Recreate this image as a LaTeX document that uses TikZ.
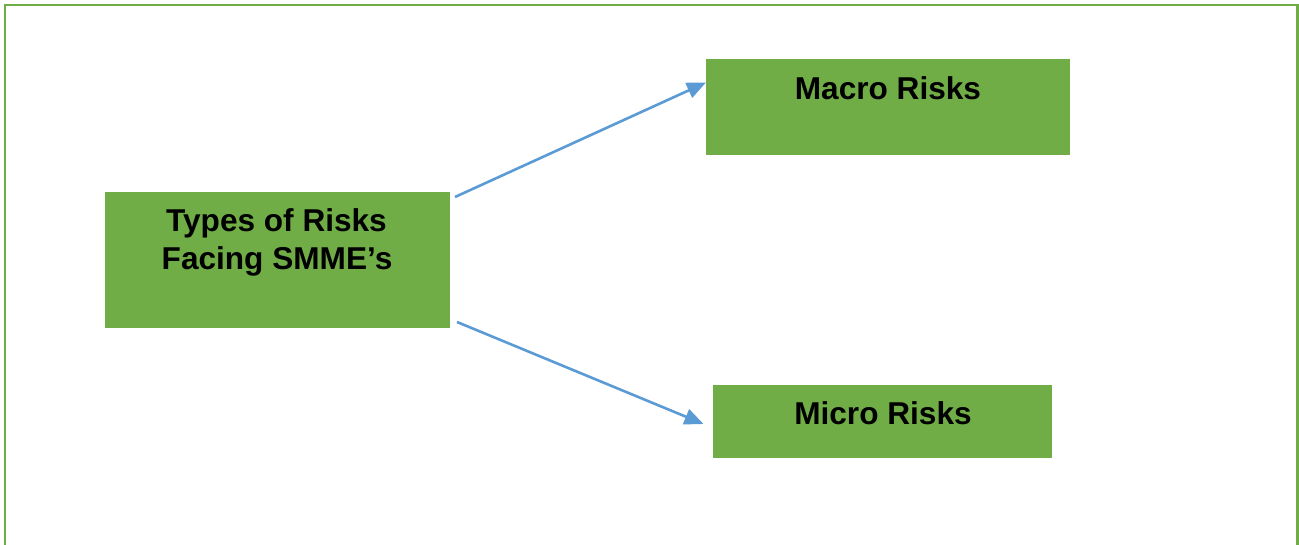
\documentclass[tikz,border=0pt]{standalone}
\usepackage{fontspec}
\setmainfont{Liberation Sans}
\usetikzlibrary{arrows.meta}
\definecolor{boxgreen}{HTML}{70AD47}
\definecolor{arrowblue}{HTML}{5B9BD5}
\begin{document}
\begin{tikzpicture}[x=1pt,y=-1pt,
  riskbox/.style={draw=none,fill=boxgreen,rectangle,inner sep=0pt,anchor=north west},
  risklabel/.style={anchor=base,inner sep=0pt,font=\fontsize{31.6}{38.5}\selectfont\bfseries,text=black},
  link/.style={draw=arrowblue,line width=2.6pt,-{Triangle[length=19pt,width=16pt]}}]
\useasboundingbox (0,0) rectangle (1299,545);
\draw[boxgreen,line width=2.6pt] (5,560) -- (5,5) -- (1297.5,5) -- (1297.5,560);
\node[riskbox,minimum width=345pt,minimum height=135.5pt] (main) at (105,192) {};
\node[riskbox,minimum width=364pt,minimum height=96pt] (macro) at (706,59) {};
\node[riskbox,minimum width=338.5pt,minimum height=73.5pt] (micro) at (713,384.7) {};
\node[risklabel] (t1) at (276.5,231.7) {Types of Risks};
\node[risklabel] (t2) at (277,270) {Facing SMME’s};
\node[risklabel] (macrot) at (888,100) {Macro Risks};
\node[risklabel] (microt) at (883,424.7) {Micro Risks};
\coordinate (s1) at (455,197);
\coordinate (e1) at (706,82.5);
\coordinate (s2) at (457,322);
\coordinate (e2) at (703.5,424);
\draw[link] (s1) -- (e1);
\draw[link] (s2) -- (e2);
\end{tikzpicture}
\end{document}
